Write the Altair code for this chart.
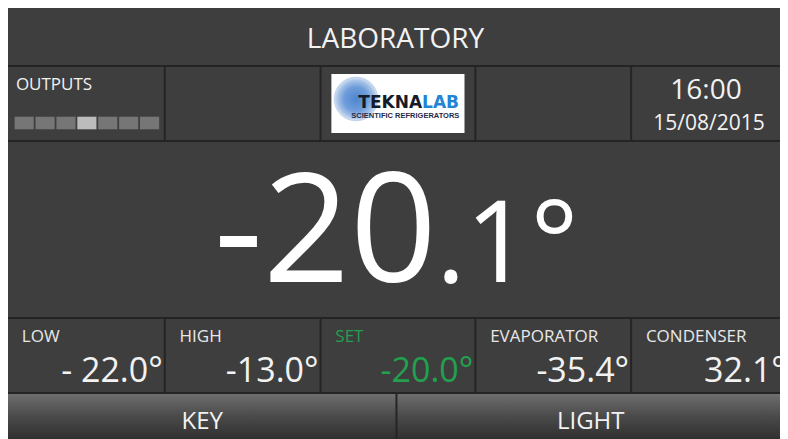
import altair as alt
import pandas as pd

# ---------------- content ----------------
TITLE = "LABORATORY"
OUTPUT_LABEL = "OUTPUTS"
OUTPUT_STATES = [0, 0, 0, 1, 0, 0, 0]
CLOCK_TIME = "16:00"
CLOCK_DATE = "15/08/2015"
MAIN_INT = "-20"
MAIN_DEC = ".1°"
PROBE_LABELS = ["LOW", "HIGH", "SET", "EVAPORATOR", "CONDENSER"]
PROBE_VALUES = ["- 22.0°", "-13.0°", "-20.0°", "-35.4°", "32.1°"]
PROBE_IS_SET = [False, False, True, False, False]
BUTTONS = ["KEY", "LIGHT"]
LOGO_MAIN = ["TEKNA", "LAB"]
LOGO_SUB = "SCIENTIFIC REFRIGERATORS"

# ---------------- layout (screen pixels of the panel) ----------------
VIEW_W, VIEW_H = 772, 431
VIEW_X = [5, 788]
VIEW_Y = [439, 8]
PANEL_X = (5, 795)
COLS = [(5, 163), (165, 321), (323, 478), (480, 636), (638, 795)]
TITLE_BAND = (8, 65)
ROW2 = (67, 140)
MAIN = (142, 317)
ROW4 = (319, 392)
BTN_Y = (394, 439)
BTN_X = [(5, 398), (400, 795)]

BORDER = "#242424"
CELL = "#3e3e3e"
WHITE = "#f2f2f2"
GREEN = "#22a04e"
SANS = "Open Sans"

xs = alt.Scale(domain=VIEW_X, nice=False, zero=False)
ys = alt.Scale(domain=VIEW_Y, nice=False, zero=False)


def rects(df, **mark):
    enc = dict(
        x=alt.X("x:Q", scale=xs, axis=None),
        x2="x2:Q",
        y=alt.Y("y:Q", scale=ys, axis=None),
        y2="y2:Q",
    )
    if "fill" not in df.columns:
        return alt.Chart(df).mark_rect(clip=True, **mark).encode(**enc)
    return alt.Chart(df).mark_rect(clip=True, **mark).encode(
        fill=alt.Fill("fill:N", scale=None), **enc
    )


def texts(df, **mark):
    return alt.Chart(df).mark_text(baseline="alphabetic", clip=True, **mark).encode(
        x=alt.X("x:Q", scale=xs, axis=None),
        y=alt.Y("y:Q", scale=ys, axis=None),
        text="t:N",
        color=alt.Color("c:N", scale=None),
    )


# background (border colour)
bg = rects(pd.DataFrame({"x": [PANEL_X[0]], "x2": [PANEL_X[1]], "y": [8], "y2": [439], "fill": [BORDER]}))

# cells
cell_rows = [dict(x=PANEL_X[0], x2=PANEL_X[1], y=TITLE_BAND[0], y2=TITLE_BAND[1], fill=CELL),
             dict(x=PANEL_X[0], x2=PANEL_X[1], y=MAIN[0], y2=MAIN[1], fill=CELL)]
for (a, b) in COLS:
    cell_rows.append(dict(x=a, x2=b, y=ROW2[0], y2=ROW2[1], fill=CELL))
    cell_rows.append(dict(x=a, x2=b, y=ROW4[0], y2=ROW4[1], fill=CELL))
cells = rects(pd.DataFrame(cell_rows))

# buttons with gradient
btn_grad = alt.LinearGradient(
    gradient="linear",
    stops=[alt.GradientStop(offset=0, color="#6e6e6e"),
           alt.GradientStop(offset=0.5, color="#4a4a4a"),
           alt.GradientStop(offset=1, color="#303030")],
    x1=0, x2=0, y1=0, y2=1,
)
btns = rects(pd.DataFrame({"x": [a for a, b in BTN_X], "x2": [b for a, b in BTN_X],
                           "y": [BTN_Y[0]] * 2, "y2": [BTN_Y[1]] * 2}), fill=btn_grad)

# output indicator squares
sq_left, sq_pitch, sq_w = 11.7, 21.2, 19.4
outs = rects(pd.DataFrame({
    "x": [sq_left + i * sq_pitch for i in range(len(OUTPUT_STATES))],
    "x2": [sq_left + i * sq_pitch + sq_w for i in range(len(OUTPUT_STATES))],
    "y": [116.7] * len(OUTPUT_STATES),
    "y2": [129.3] * len(OUTPUT_STATES),
    "fill": ["#bcbcbc" if s else "#767676" for s in OUTPUT_STATES],
}))

# logo
logo_box = rects(pd.DataFrame({"x": [333], "x2": [468], "y": [74], "y2": [133], "fill": ["#ffffff"]}))
globe_grad = alt.RadialGradient(
    gradient="radial",
    stops=[alt.GradientStop(offset=0, color="#4f86cf"),
           alt.GradientStop(offset=0.55, color="#6f9ddb"),
           alt.GradientStop(offset=0.85, color="#a9c4e8"),
           alt.GradientStop(offset=1, color="#d7e3f3")],
    x1=0.5, y1=0.5, r1=0, x2=0.5, y2=0.5, r2=0.5,
)
globe = alt.Chart(pd.DataFrame({"x": [358], "y": [99]})).mark_point(
    shape="circle", filled=True, size=1900, fill=globe_grad, opacity=1,
    stroke="#c2d3ea", strokeWidth=1
).encode(x=alt.X("x:Q", scale=xs, axis=None), y=alt.Y("y:Q", scale=ys, axis=None))
logo_a = texts(pd.DataFrame({"x": [425], "y": [108], "t": [LOGO_MAIN[0]], "c": ["#141c2c"]}),
               align="right", font="DejaVu Sans", fontWeight="bold", fontSize=17)
logo_b = texts(pd.DataFrame({"x": [425], "y": [108], "t": [LOGO_MAIN[1]], "c": ["#2384d6"]}),
               align="left", font="DejaVu Sans", fontWeight="bold", fontSize=17)
logo_sub = texts(pd.DataFrame({"x": [408], "y": [118], "t": [LOGO_SUB], "c": ["#1d2a48"]}),
                 align="center", font="Liberation Sans", fontWeight="bold", fontSize=7.5)

# texts
title_t = texts(pd.DataFrame({"x": [398], "y": [48], "t": [TITLE], "c": [WHITE]}),
                align="center", font=SANS, fontSize=28)
outputs_t = texts(pd.DataFrame({"x": [13], "y": [89.5], "t": [OUTPUT_LABEL], "c": [WHITE]}),
                  align="left", font=SANS, fontSize=17)
clock_t = texts(pd.DataFrame({"x": [713], "y": [98.5], "t": [CLOCK_TIME], "c": [WHITE]}),
                align="center", font=SANS, fontSize=28)
date_t = texts(pd.DataFrame({"x": [716], "y": [130], "t": [CLOCK_DATE], "c": [WHITE]}),
               align="center", font=SANS, fontSize=21)
main_int_t = texts(pd.DataFrame({"x": [214], "y": [282], "t": [MAIN_INT], "c": ["#ffffff"]}),
                   align="left", font=SANS, fontSize=152)
main_dec_t = texts(pd.DataFrame({"x": [439], "y": [282], "t": [MAIN_DEC], "c": ["#ffffff"]}),
                   align="left", font=SANS, fontSize=113)

probe_lab_t = texts(pd.DataFrame({
    "x": [a + 14 for a, b in COLS], "y": [342] * 5, "t": PROBE_LABELS,
    "c": [GREEN if s else "#e8e8e8" for s in PROBE_IS_SET]}),
    align="left", font=SANS, fontSize=17)
probe_val_t = texts(pd.DataFrame({
    "x": [b - 1 for a, b in COLS], "y": [382] * 5, "t": PROBE_VALUES,
    "c": [GREEN if s else WHITE for s in PROBE_IS_SET]}),
    align="right", font=SANS, fontSize=34)
btn_t = texts(pd.DataFrame({"x": [202, 596], "y": [429, 429], "t": BUTTONS, "c": [WHITE, WHITE]}),
              align="center", font=SANS, fontSize=24)

chart = alt.layer(
    bg, cells, btns, outs, logo_box, globe, logo_a, logo_b, logo_sub,
    title_t, outputs_t, clock_t, date_t, main_int_t, main_dec_t,
    probe_lab_t, probe_val_t, btn_t,
).properties(
    width=VIEW_W, height=VIEW_H, padding=0,
    autosize=alt.AutoSizeParams(type="none"),
).configure_view(stroke=None)

chart.save("out.html", embed_options={"renderer": "svg", "actions": False})
